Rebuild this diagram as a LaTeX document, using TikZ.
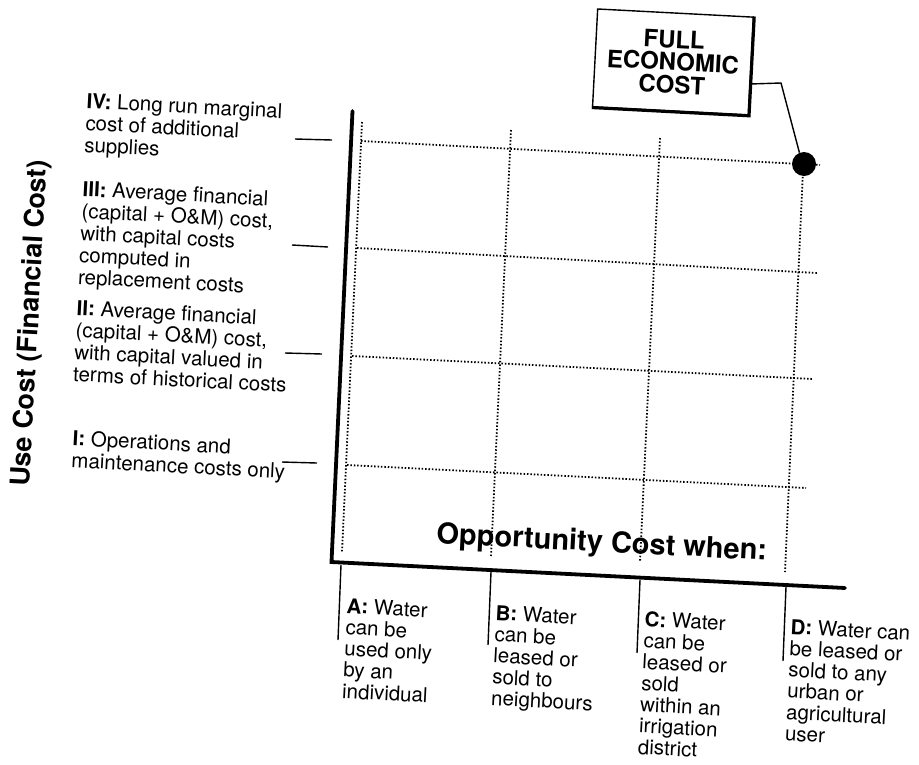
\documentclass[tikz,border=0pt]{standalone}
\usepackage{fontspec}
\setmainfont{TeX Gyre Heros}
\usetikzlibrary{calc}
\begin{document}
\begin{tikzpicture}[x=1pt,y=-1pt,
  lab/.style={font=\fontsize{20.5}{22}\selectfont, align=left, anchor=north west, inner sep=0pt, rotate=-3},
  blab/.style={font=\fontsize{20.5}{21.3}\selectfont, align=left, anchor=north west, inner sep=0pt, rotate=-3},
  axisline/.style={line width=3.8pt, line cap=round},
  gridline/.style={line width=1.8pt, dash pattern=on 1.5pt off 1.9pt},
  tickline/.style={line width=1.4pt},
]
\useasboundingbox (0,0) rectangle (919,764);

% axes
\coordinate (ytop) at (352.5,111);
\coordinate (orig) at (331.5,562);
\coordinate (xend) at (845,588);
\draw[axisline] (ytop) -- (orig) -- (xend);

% grid coordinates
\coordinate (vAt) at (362,122);  \coordinate (vAb) at (342,552);
\coordinate (vBt) at (511,130);  \coordinate (vBb) at (491,556);
\coordinate (vCt) at (660,138);  \coordinate (vCb) at (640,562);
\coordinate (vDt) at (803,170);  \coordinate (vDb) at (785,572);
\coordinate (h4l) at (361,141);  \coordinate (h4r) at (820,165);
\coordinate (h3l) at (357,248);  \coordinate (h3r) at (817,273);
\coordinate (h2l) at (352,356);  \coordinate (h2r) at (813,379);
\coordinate (h1l) at (347,465);  \coordinate (h1r) at (806,488);

\draw[gridline] (vAt) -- (vAb);
\draw[gridline] (vBt) -- (vBb);
\draw[gridline] (vCt) -- (vCb);
\draw[gridline] (vDt) -- (vDb);
\draw[gridline] (h4l) -- (h4r);
\draw[gridline] (h3l) -- (h3r);
\draw[gridline] (h2l) -- (h2r);
\draw[gridline] (h1l) -- (h1r);

% full economic cost point
\node[circle, fill=black, inner sep=0pt, minimum size=24pt] (dot) at (804,164) {};

% box
\node[draw, line width=1.4pt, rotate=-3, minimum width=156pt, minimum height=98pt,
      font=\bfseries\fontsize{24}{22.5}\selectfont, align=center, inner sep=0pt]
      (box) at (673,62) {FULL\\ECONOMIC\\COST};
\draw[line width=3.2pt] (box.south west) -- (box.south east) -- (box.north east);
\coordinate (bend) at (781,83);
\draw[tickline] ($(box.north east)!0.68!(box.south east)$) -- (bend) -- (dot.112);

% y-axis title
\node[font=\bfseries\fontsize{27}{30}\selectfont, rotate=87, inner sep=0pt] (ytitle) at (31,323) {Use Cost (Financial Cost)};

% left tick marks
\coordinate (t4a) at (295,139); \coordinate (t4b) at (332,140);
\coordinate (t3a) at (292,245); \coordinate (t3b) at (328,247);
\coordinate (t2a) at (285,353); \coordinate (t2b) at (322,354);
\coordinate (t1a) at (282,462); \coordinate (t1b) at (317,463);
\draw[tickline] (t4a) -- (t4b);
\draw[tickline] (t3a) -- (t3b);
\draw[tickline] (t2a) -- (t2b);
\draw[tickline] (t1a) -- (t1b);

% left labels
\node[lab] (lIV) at (87,93) {\textbf{IV:} Long run marginal\\cost of additional\\supplies};
\node[lab] (lIII) at (83,181) {\textbf{III:} Average financial\\(capital + O\&M) cost,\\with capital costs\\computed in\\replacement costs};
\node[lab] (lII) at (77,300) {\textbf{II:} Average financial\\(capital + O\&M) cost,\\with capital valued in\\terms of historical costs};
\node[lab] (lI) at (73,430) {\textbf{I:} Operations and\\maintenance costs only};

% x-axis title
\node[font=\bfseries\fontsize{29}{30}\selectfont, anchor=base west, inner sep=0pt, rotate=-3] (opp) at (436,543) {Opportunity Cost when:};

% bottom tick marks
\coordinate (bAa) at (341,565); \coordinate (bAb) at (338,640);
\coordinate (bBa) at (491,572); \coordinate (bBb) at (488,645);
\coordinate (bCa) at (640,580); \coordinate (bCb) at (637,653);
\coordinate (bDa) at (786,587); \coordinate (bDb) at (783,661);
\draw[tickline] (bAa) -- (bAb);
\draw[tickline] (bBa) -- (bBb);
\draw[tickline] (bCa) -- (bCb);
\draw[tickline] (bDa) -- (bDb);

% bottom labels
\node[blab] (lA) at (347,598) {\textbf{A:} Water\\can be\\used only\\by an\\individual};
\node[blab] (lB) at (496,605) {\textbf{B:} Water\\can be\\leased or\\sold to\\neighbours};
\node[blab] (lC) at (645,611) {\textbf{C:} Water\\can be\\leased or\\sold\\within an\\irrigation\\district};
\node[blab] (lD) at (791,619) {\textbf{D:} Water can\\be leased or\\sold to any\\urban or\\agricultural\\user};
\end{tikzpicture}
\end{document}
